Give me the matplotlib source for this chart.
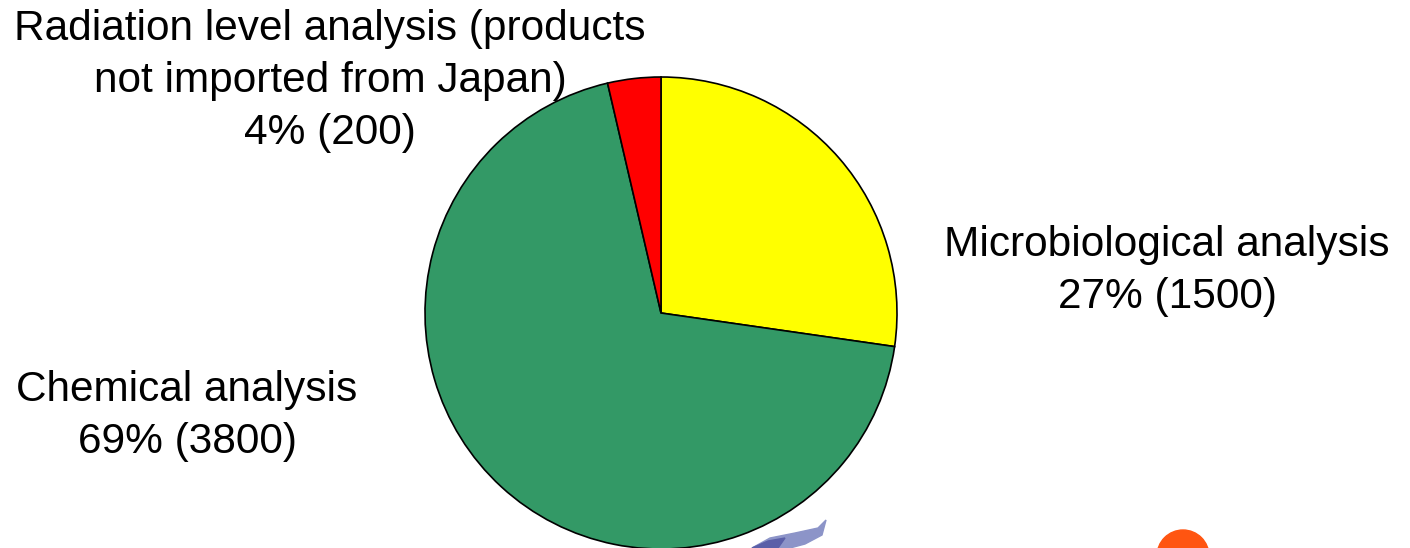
import matplotlib
matplotlib.use("Agg")
import matplotlib.pyplot as plt
from matplotlib.patches import Circle, Polygon

plt.rcParams['font.family'] = ['Liberation Sans', 'DejaVu Sans']

categories = ["Microbiological analysis", "Chemical analysis",
              "Radiation level analysis (products\nnot imported from Japan)"]
values = [1500, 3800, 200]
percent_labels = ["27%", "69%", "4%"]
colors = ["#FFFF00", "#339966", "#FF0000"]

W, H = 1410, 548
fig = plt.figure(figsize=(W / 100, H / 100), dpi=100)

# pie axes: center (661, 313) px, radius 236 px
cx, cy, r = 661, 313, 236
ax = fig.add_axes([(cx - r) / W, (H - cy - r) / H, 2 * r / W, 2 * r / H])
ax.pie(values, colors=colors, startangle=90, counterclock=False,
       wedgeprops=dict(edgecolor="black", linewidth=1.2))
ax.set_xlim(-1, 1)
ax.set_ylim(-1, 1)
ax.set_aspect("auto")
ax.axis("off")

label_pos = [(1167, 271), (187, 416), (330, 81)]
for cat, pct, v, (x, y) in zip(categories, percent_labels, values, label_pos):
    fig.text(x / W, 1 - y / H, f"{cat}\n{pct} ({v})", ha="center", va="center",
             fontsize=30.5, linespacing=1.4, color="black")

# decorative logo fragments at the bottom edge
lax = fig.add_axes([0, 0, 1, 1], zorder=-1)
lax.set_xlim(0, W)
lax.set_ylim(H, 0)
lax.axis("off")
lax.add_patch(Circle((1183, 556), 26, color="#FF5511"))
lax.add_patch(Polygon([(752, 548), (770, 538), (795, 533), (818, 528), (826, 520),
                       (822, 535), (805, 544), (790, 548)], closed=True,
                      color="#8C94C8"))
lax.add_patch(Polygon([(752, 548), (768, 541), (785, 538), (778, 548)], closed=True,
                      color="#5A5FA8"))

fig.savefig("out.png", dpi=100)
